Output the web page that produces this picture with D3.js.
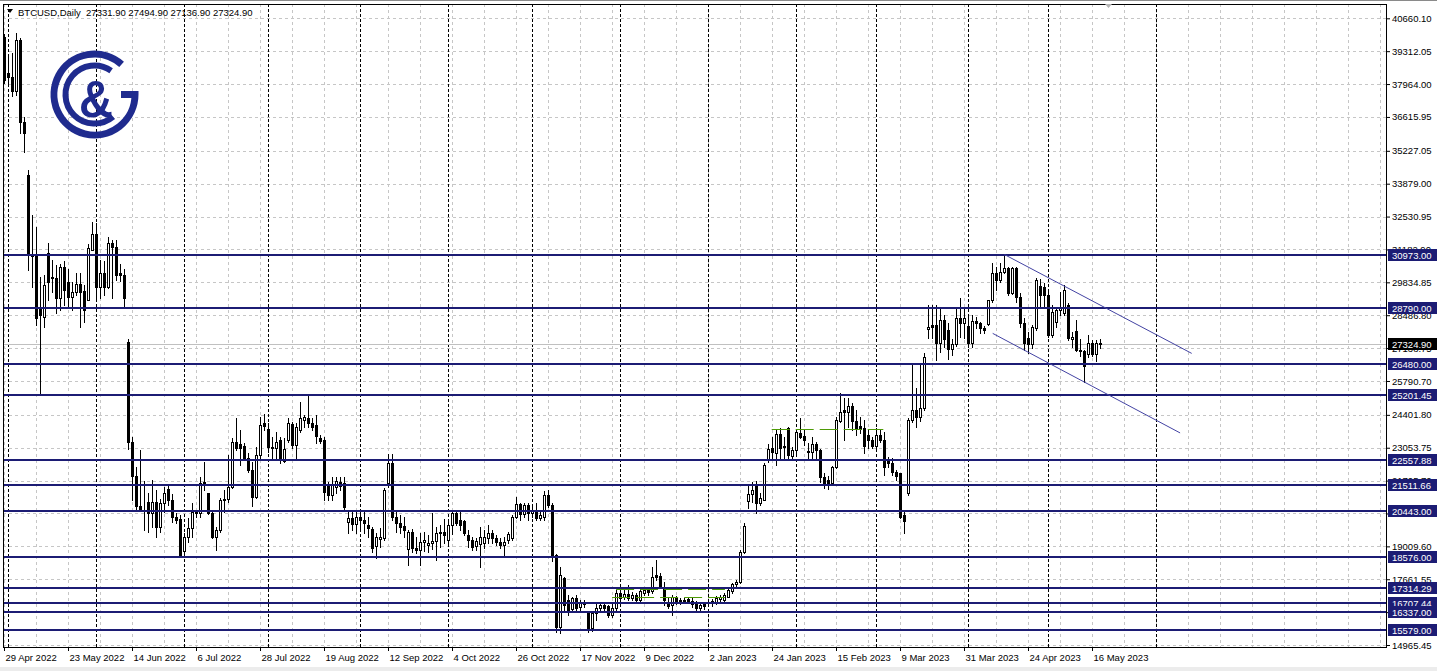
<!DOCTYPE html>
<html><head><meta charset="utf-8">
<script src="https://cdn.jsdelivr.net/npm/d3@7"></script>
<style>
html,body{margin:0;padding:0;background:#fff;overflow:hidden}
svg{display:block}
text{font-family:"Liberation Sans",Arial,sans-serif;font-size:9.5px}
</style></head><body>
<svg id="c" width="1437" height="671"></svg>
<script>
// ---------------- data ----------------
const open = [
39900,38400,38260,37690,39770,36420,34230,30950,30900,28800,
28420,31020,30060,30010,29180,30470,29860,29240,29450,29760,
29490,29130,31180,31810,29650,30200,29650,31430,31290,30200,
30130,27400,23300,21900,20650,20500,20840,20360,20840,19810,
20800,21350,20900,20220,20150,18820,19400,19750,20430,20380,
21590,21180,20390,19400,19680,20910,20970,21450,23300,23220,
23120,22620,22140,21040,22750,24080,23820,23090,23030,23370,
22520,23370,24020,23160,23780,24190,24260,24080,23980,23440,
23390,21520,21110,21450,21660,21620,19990,20160,19920,20220,
20090,19880,19740,19020,19300,19340,21590,22410,20220,19950,
19840,18900,19600,18930,18860,19200,19060,19160,19240,19570,
19610,19250,19900,20360,20090,20060,19470,19290,19020,19100,
19130,19340,19540,19340,19200,19060,19270,19340,20220,20740,
20350,20700,20360,20480,20160,20220,21110,20700,18650,15710,
17700,16800,16430,16880,16540,16740,16290,15650,16260,16470,
16600,16560,16190,16470,17110,16920,17040,16880,17000,16800,
17100,17200,17180,17830,17800,17360,16740,16600,16920,16800,
16750,16850,16780,16640,16470,16640,16670,16700,16740,16840,
16810,16940,17180,17460,17560,18790,20880,21140,21500,20770,
20930,22550,23030,22850,23600,23120,23850,22710,22960,23670,
23530,22930,22890,23200,22960,21860,21730,21590,22250,24160,
24600,24530,24760,24160,23950,23850,23560,23370,23120,23570,
23390,22550,22410,22040,22000,20290,21180,24190,24600,24300,
24670,27910,28080,28100,27360,28290,27900,27100,27300,28360,
28160,28040,27340,28260,28160,27950,28120,29110,30200,29930,
30270,30410,29410,30410,29240,28180,27540,27300,27950,29700,
29650,29310,27670,28200,28700,28560,28900,27500,27850,27060,
27020,26890,27330,26900,27331.9];
const high = [
40000,39100,39250,40040,39840,36620,34440,32590,32110,30060,
30130,31430,30750,30530,30600,30700,30400,29850,30200,30210,
29720,31400,32320,32250,30750,30700,31700,31570,31570,30600,
30400,27500,23500,22250,22950,21700,21200,21730,21320,20950,
21450,21480,21150,20390,20300,19540,20160,20770,20500,21860,
22480,21200,20500,19810,20980,21320,22750,23450,24260,23770,
23230,22820,22480,23090,24300,24430,24050,23500,23700,23500,
23440,24260,24120,24050,24940,24400,25200,24260,24400,23570,
23500,21660,21860,21860,21860,21860,20500,20500,20500,20430,
20430,20220,19810,19540,19750,21390,22790,22790,20430,20290,
20220,19700,19740,19400,19540,19610,19470,20390,19800,19900,
20150,20100,20430,20430,20430,20090,19680,19400,19340,19810,
19680,19880,19680,19470,19340,19400,19610,20290,21040,20800,
20770,20770,20700,20770,20430,21290,21320,20800,18700,18170,
17760,17000,16940,17010,16810,16810,16330,16330,16740,16740,
16740,16600,16740,17220,17220,17220,17420,17150,17080,17300,
17350,17300,18170,18450,17900,17560,16880,17010,16970,16900,
16880,16950,16900,16770,16700,16740,16800,16840,16970,17010,
17080,17350,17500,17650,18860,19950,21520,21660,21700,21180,
22410,23190,23500,23810,23850,23500,23910,23090,23780,24260,
23780,23230,23480,23300,22990,22000,21890,22300,24320,25280,
25080,25080,24870,24600,24320,24190,23780,23500,23850,23780,
23710,22690,22620,22140,22030,20430,24260,26520,25490,26500,
26950,28900,28900,28900,28830,28500,28150,27500,28760,29180,
28760,28490,28490,28420,28220,28030,29130,30610,30470,30610,
30973,30470,30470,30470,29380,28360,27810,28080,30000,29960,
29800,29450,28900,28800,29450,29720,29000,27810,28290,27500,
27060,27670,27470,27470,27494.9];
const low = [
38000,38000,37470,37510,35940,35190,30340,29650,28080,25201,
28010,29110,29450,28560,28700,28900,28850,28700,29300,28000,
28220,29100,31160,29180,29180,29300,29600,29180,29930,29900,
28830,23000,20900,20450,20450,19700,19600,19810,19410,19600,
20430,20700,20000,19950,18580,18580,19200,19400,20220,20220,
21300,20350,19340,18860,19600,20420,20840,21390,22960,22350,
22550,22060,20660,20980,22620,23770,22890,22620,22620,22420,
22480,23300,23030,22620,23710,23900,23900,23780,23230,23230,
20900,20900,20900,21180,21320,20500,19540,19680,19540,19680,
19540,19400,18790,18520,18990,19270,21450,20090,19610,19540,
19380,18250,18790,18720,18240,18800,18790,18900,18470,19000,
19130,19100,19500,19870,19700,19470,19000,18860,18860,18170,
18960,19130,19130,19060,18930,18650,19130,19270,20160,20090,
20220,20090,20220,20090,20090,20090,20630,18400,15510,15440,
16400,16200,16330,16330,16330,16530,15480,15520,16000,16400,
16330,16120,16120,16400,16800,16840,16800,16800,16670,16740,
17000,17000,17080,17630,17290,16600,16470,16190,16640,16640,
16700,16680,16540,16400,16400,16430,16560,16560,16640,16740,
16700,16920,17100,17350,17490,18720,20570,20840,20390,20700,
20900,22480,22550,22340,22620,22550,22550,22620,22750,23440,
23160,22620,22620,22620,21660,21390,21350,21520,22210,24120,
23370,23910,23780,23570,23640,22820,23030,23030,23030,23300,
21930,22250,21930,21730,20160,19540,21110,24100,23910,24150,
24600,27560,27560,26650,26990,27200,26700,26850,27220,27600,
27540,27190,27190,27950,27740,27740,28080,29040,29520,29860,
30200,29310,29350,29020,28010,27060,26920,27130,27880,28830,
28830,27600,27600,28000,28490,28490,27470,27190,27000,26800,
25760,26780,26800,26600,27136.9];
const close = [
38150,38250,37690,39770,36420,35940,30950,30900,28360,28500,
29720,29860,30010,29180,30470,29520,29240,29450,29760,29450,
28700,31230,31810,29650,30200,29650,31430,31290,30130,30130,
29180,23300,21900,20650,20500,20450,20360,20840,19810,20800,
21190,20900,20220,20100,18650,19400,19750,20430,20360,21590,
21630,20390,19400,19680,20910,20970,21450,23300,23050,23030,
22620,22140,21040,22750,23980,23940,23090,23030,23300,22550,
23020,24080,23160,23910,24260,24300,24080,23910,23530,23340,
21240,21110,21520,21700,21490,20630,20160,19920,20220,20090,
19950,19750,18930,19400,19400,21320,22440,20220,19950,19810,
19680,19600,18930,18860,19200,19270,19160,19240,19570,19610,
19480,19900,20360,19980,19880,19540,19270,18990,19240,19400,
19380,19540,19340,19200,19060,19200,19510,20220,20740,20350,
20700,20360,20480,20160,20280,21110,20700,18650,15710,17830,
16600,16330,16880,16470,16740,16650,15610,16260,16470,16600,
16500,16190,16500,17110,16880,17040,16880,17000,16800,17180,
17210,17130,17760,17770,17360,16810,16560,16920,16740,16750,
16800,16780,16640,16470,16600,16560,16740,16780,16880,16920,
17000,17220,17460,17560,18790,19840,21140,21300,20770,20980,
22340,22990,22890,23600,23030,23070,22750,22960,23710,23510,
23370,22890,23200,22960,21840,21520,21520,22250,24190,24530,
24530,24760,24160,23810,23810,23120,23370,23120,23570,23390,
22250,22410,22040,21890,20220,20060,24190,24600,24300,24670,
26760,27990,27990,27360,28290,27500,27100,27300,28360,28160,
28360,27340,28260,28160,27950,27860,29110,30200,29930,30270,
30410,29410,30410,29240,28180,27330,27300,27990,29950,29310,
29310,27670,28630,28700,28830,29520,27540,27600,27060,27020,
26400,27330,26900,27330,27324.9];

const xLabels = ["29 Apr 2022","23 May 2022","14 Jun 2022","6 Jul 2022","28 Jul 2022","19 Aug 2022",
  "12 Sep 2022","4 Oct 2022","26 Oct 2022","17 Nov 2022","9 Dec 2022","2 Jan 2023","24 Jan 2023",
  "15 Feb 2023","9 Mar 2023","31 Mar 2023","24 Apr 2023","16 May 2023"];
const xLabelStep = 16;
const yTicks = [40660.10,39312.05,37964.00,36615.95,35227.05,33879.00,32530.95,31182.90,29834.85,
  28486.80,27138.75,25790.70,24401.80,23053.75,21705.70,20357.65,19009.60,17661.55,16313.50,14965.45];
const levels = [30973.00,28790.00,26480.00,25201.45,22557.88,21511.66,20443.00,18576.00,17314.29,16707.44,16337.00,15579.00];
const monthStarts = [1,23,45,66,89,111,132,154,176,198,218,241,261,288];
const greenPrice = [17246,16943,23831];
const greenFrom  = [152.9,151.9,191.8];
const greenTo    = [180.1,180.1,219.7];
const channelFromIdx = [250,247.05];
const channelFromPrice = [30973,27742];
const channelToIdx = [296.8,293.9];
const channelToPrice = [26922,23660];
const header = "BTCUSD,Daily  27331.90 27494.90 27136.90 27324.90";
const lastPrice = 27324.90;

// ---------------- layout ----------------
const L=3, T=4, R=1386, B=647;
const NAVY="#1c1c74";
const GRID="#c6c6c6";
const svg = d3.select("#c");
const x = d3.scaleLinear().domain([0,1]).range([4.5,8.5]);
const y = d3.scaleLinear().domain([14965.45,40660.10]).range([645,18.3]);
const ry = p => Math.round(y(p));

svg.append("rect").attr("width",1437).attr("height",671).attr("fill","#fff");
svg.append("rect").attr("x",0).attr("y",667).attr("width",1437).attr("height",4).attr("fill","#ececec");
svg.append("rect").attr("x",0).attr("y",0).attr("width",1437).attr("height",1).attr("fill","#8a8a8a");

svg.append("clipPath").attr("id","clip").append("rect").attr("x",L+1).attr("y",T+1).attr("width",R-L-1).attr("height",B-T-1);
const plot = svg.append("g").attr("clip-path","url(#clip)");

// grid
const grid = plot.append("g");
yTicks.forEach(t=>{
  grid.append("line").attr("x1",L).attr("x2",R).attr("y1",ry(t)+0.5).attr("y2",ry(t)+0.5)
   .attr("stroke",GRID).attr("stroke-dasharray","3,3");
});
for(let k=0;k*8<=344;k++){
  const xx = x(k*8);
  grid.append("line").attr("x1",xx).attr("x2",xx).attr("y1",T).attr("y2",B)
   .attr("stroke",GRID).attr("stroke-dasharray","3,3");
}
monthStarts.forEach(i=>{
  const xx = x(i);
  grid.append("line").attr("x1",xx).attr("x2",xx).attr("y1",T).attr("y2",B)
   .attr("stroke","#000").attr("stroke-dasharray","3,2");
});
// bid line
plot.append("line").attr("x1",L).attr("x2",R).attr("y1",ry(lastPrice)+0.5).attr("y2",ry(lastPrice)+0.5)
  .attr("stroke","#c0c0c0");

// candles
const cg = plot.append("g");
open.forEach((o,i)=>{
  const c=close[i], h=Math.max(high[i],o,c), l=Math.min(low[i],o,c);
  const xc = x(i);
  const yH=ry(h), yL=ry(l);
  cg.append("rect").attr("x",xc-0.5).attr("y",yH).attr("width",1).attr("height",yL-yH+1).attr("fill","#000");
  const top=Math.min(ry(o),ry(c)), bot=Math.max(ry(o),ry(c));
  if(c>=o){
    cg.append("rect").attr("x",xc-1).attr("y",top+0.5).attr("width",2).attr("height",Math.max(bot-top,0))
      .attr("fill","#fff").attr("stroke","#000").attr("stroke-width",1);
  } else {
    cg.append("rect").attr("x",xc-1.5).attr("y",top).attr("width",3).attr("height",bot-top+1).attr("fill","#000");
  }
});

// horizontal levels
levels.forEach(p=>{
  plot.append("line").attr("x1",L).attr("x2",R).attr("y1",ry(p)).attr("y2",ry(p))
   .attr("stroke",NAVY).attr("stroke-width",2);
});
// green dashed
greenPrice.forEach((p,k)=>{
  plot.append("line").attr("x1",x(greenFrom[k])).attr("x2",x(greenTo[k])).attr("y1",ry(p)+0.5).attr("y2",ry(p)+0.5)
   .attr("stroke","#4e9a06").attr("stroke-dasharray","18,6");
});
// channel
channelFromIdx.forEach((i0,k)=>{
  plot.append("line").attr("x1",x(i0)).attr("y1",y(channelFromPrice[k]))
   .attr("x2",x(channelToIdx[k])).attr("y2",y(channelToPrice[k]))
   .attr("stroke","#4343a3").attr("stroke-width",1);
});

// frame
svg.append("rect").attr("x",L+0.5).attr("y",T+0.5).attr("width",R-L).attr("height",B-T)
  .attr("fill","none").attr("stroke","#000");

// axes
const yAxis = d3.axisRight(y).tickValues(yTicks).tickFormat(d3.format(".2f")).tickSize(4).tickPadding(2);
const ya = svg.append("g").attr("transform",`translate(${R},0)`).call(yAxis);
ya.select(".domain").remove();
ya.selectAll("text").attr("font-family","Liberation Sans").attr("font-size","9.5px").attr("fill","#000");
ya.selectAll("line").attr("stroke","#000");

const xTickVals = xLabels.map((d,k)=>k*xLabelStep);
const xAxis = d3.axisBottom(x).tickValues(xTickVals).tickFormat((d,k)=>xLabels[k]).tickSize(4).tickPadding(3);
const xa = svg.append("g").attr("transform",`translate(-0.5,${B})`).call(xAxis);
xa.select(".domain").remove();
xa.selectAll("text").attr("text-anchor","start").attr("x",1).attr("font-family","Liberation Sans").attr("font-size","9.5px").attr("fill","#000");
xa.selectAll("line").attr("stroke","#000");

// price boxes
const boxes = svg.append("g");
levels.forEach(p=>{
  const yc=ry(p);
  boxes.append("rect").attr("x",1388).attr("y",yc-6).attr("width",49).attr("height",12).attr("fill",NAVY);
  boxes.append("text").attr("x",1392).attr("y",yc+3.5).attr("fill","#fff").text(d3.format(".2f")(p));
});
{
  const yc=ry(lastPrice);
  boxes.append("rect").attr("x",1388).attr("y",yc-6).attr("width",49).attr("height",12).attr("fill","#000");
  boxes.append("text").attr("x",1392).attr("y",yc+3.5).attr("fill","#fff").text(d3.format(".2f")(lastPrice));
}

// header
svg.append("path").attr("d","M7,9 L13,9 L10,13 Z").attr("fill","#000");
svg.append("text").attr("x",18).attr("y",16).attr("fill","#000").style("white-space","pre").text(header);
// shift marker
svg.append("path").attr("d","M1105,4 L1112,4 L1108.5,8 Z").attr("fill","#b4b4b4");

// logo
const LOGO="#1f2b8e";
const lg = svg.append("g");
const cx=94.5, cy=94.5;
const pt=(r,a)=>[cx+r*Math.cos(a*Math.PI/180), cy+r*Math.sin(a*Math.PI/180)];
const s1=pt(40.5,-48), e1=pt(40.5,0);
lg.append("path").attr("d",`M${s1[0]},${s1[1]} A40.5,40.5 0 1 0 ${e1[0]},${e1[1]} L121,${cy}`)
  .attr("fill","none").attr("stroke",LOGO).attr("stroke-width",7);
const s2=pt(29,-55), e2=pt(29,50);
lg.append("path").attr("d",`M${s2[0]},${s2[1]} A29,29 0 1 0 ${e2[0]},${e2[1]}`)
  .attr("fill","none").attr("stroke",LOGO).attr("stroke-width",6);
lg.append("text").attr("transform","translate(96,117) scale(1,1.12)").attr("text-anchor","middle")
  .attr("font-family","Liberation Sans").attr("font-weight","bold").style("font-size","47px").attr("fill",LOGO).text("&");
</script>
</body></html>
